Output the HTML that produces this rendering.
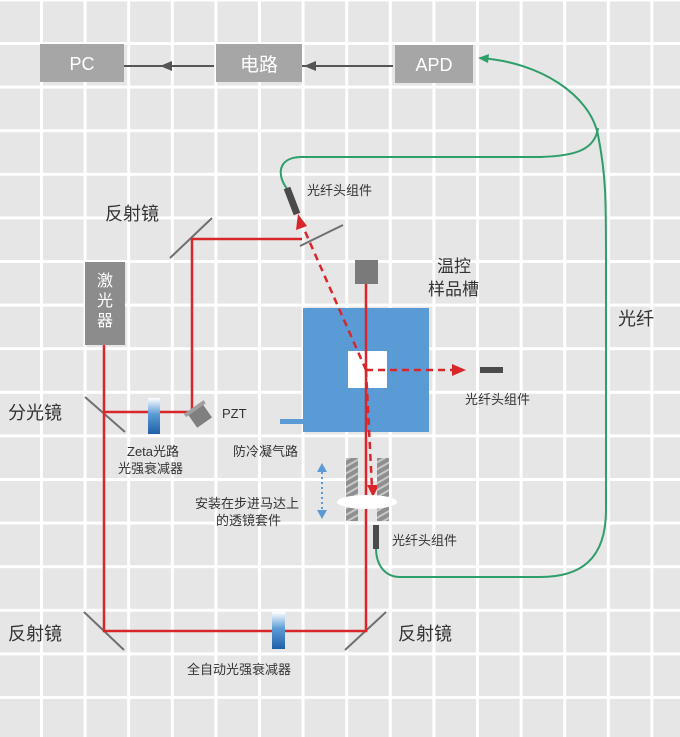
<!DOCTYPE html>
<html><head><meta charset="utf-8"><style>
html,body{margin:0;padding:0;background:#e6e6e6;}
svg{display:block;}
text{font-family:"Liberation Sans","Noto Sans CJK SC",sans-serif;}
</style></head><body>
<svg width="680" height="737" viewBox="0 0 680 737" xmlns="http://www.w3.org/2000/svg">
<defs>
<pattern id="g" x="-3.6" y="-1.6" width="43.6" height="43.6" patternUnits="userSpaceOnUse">
<rect width="43.6" height="43.6" fill="#e6e6e6"/>
<rect x="0" y="0" width="3" height="43.6" fill="#fff"/>
<rect x="0" y="0" width="43.6" height="3" fill="#fff"/>
</pattern>
<linearGradient id="bl" x1="0" y1="0" x2="0" y2="1">
<stop offset="0" stop-color="#ffffff"/><stop offset="0.45" stop-color="#5b9bd5"/><stop offset="1" stop-color="#1f5fa8"/>
</linearGradient>
<pattern id="h" width="6" height="6" patternUnits="userSpaceOnUse" patternTransform="rotate(-30)">
<rect width="6" height="6" fill="#8f8f8f"/><rect width="6" height="2" fill="#c8c8c8"/>
</pattern>
</defs>
<rect width="680" height="737" fill="url(#g)"/>

<!-- top boxes -->
<rect x="40" y="44" width="84" height="38" fill="#a6a6a6"/>
<text x="82" y="70" font-size="18" fill="#fff" text-anchor="middle">PC</text>
<rect x="216" y="44" width="86" height="38" fill="#a6a6a6"/>
<text x="259" y="71" font-size="19" fill="#fff" text-anchor="middle">电路</text>
<rect x="395" y="45" width="78" height="38" fill="#a6a6a6"/>
<text x="434" y="71" font-size="18" fill="#fff" text-anchor="middle">APD</text>
<line x1="124" y1="66" x2="214" y2="66" stroke="#555" stroke-width="2"/>
<polygon points="160,66 172,61 172,71" fill="#555"/>
<line x1="302" y1="66" x2="393" y2="66" stroke="#555" stroke-width="2"/>
<polygon points="304,66 316,61 316,71" fill="#555"/>

<!-- green fiber -->
<g fill="none" stroke="#2e9e6a" stroke-width="2">
<path d="M480,58 C540,62 590,95 598,135 C606,175 606,200 606,260 L606,510 C606,560 580,577 540,577 L400,577 C385,577 376,565 376,548"/>
<path d="M598,128 C595,150 575,156 540,157 L300,157 C278,158 276,175 288,190"/>
</g>
<polygon points="478,58 489,54 488,63" fill="#2e9e6a"/>

<!-- mirrors -->
<g stroke="#6f6f6f" stroke-width="2">
<line x1="170" y1="258" x2="212" y2="218"/>
<line x1="300" y1="246" x2="343" y2="225"/>
<line x1="85" y1="397" x2="125" y2="432"/>
<line x1="84" y1="612" x2="124" y2="650"/>
<line x1="345" y1="650" x2="386" y2="612"/>
</g>

<!-- laser -->
<rect x="85" y="262" width="40" height="83" fill="#8c8c8c"/>
<text font-size="16" fill="#fff" text-anchor="middle"><tspan x="105" y="286">激</tspan><tspan x="105" y="306">光</tspan><tspan x="105" y="326">器</tspan></text>

<!-- blue sample -->
<rect x="303" y="308" width="126" height="124" fill="#5b9bd5"/>
<rect x="348" y="351" width="39" height="37" fill="#fff"/>
<rect x="280" y="419" width="23" height="5" fill="#5b9bd5"/>
<rect x="355" y="260" width="23" height="24" fill="#7a7a7a"/>

<!-- red beams -->
<g stroke="#d9262b" stroke-width="2.5" fill="none">
<polyline points="104,345 104,631 366,631 366,284"/>
<polyline points="104,412 192,412 192,239 302,239"/>
</g>
<g stroke="#d9262b" stroke-width="2.5" fill="none" stroke-dasharray="7,5">
<line x1="366" y1="370" x2="300" y2="220"/>
<line x1="366" y1="370" x2="455" y2="370"/>
<line x1="366" y1="370" x2="372" y2="488"/>
</g>
<polygon points="298,214 296,230 307,226" fill="#d9262b"/>
<polygon points="466,370 452,364 452,376" fill="#d9262b"/>
<polygon points="373,497 367,485 379,485" fill="#d9262b"/>

<!-- fiber heads -->
<line x1="287" y1="188" x2="297" y2="214" stroke="#4a4a4a" stroke-width="7"/>
<rect x="480" y="367" width="23" height="6" fill="#4a4a4a"/>
<rect x="373" y="525" width="6" height="24" fill="#4a4a4a"/>

<!-- lens kit -->
<rect x="346" y="458" width="12" height="63" fill="url(#h)"/>
<rect x="377" y="458" width="12" height="63" fill="url(#h)"/>
<ellipse cx="367" cy="502" rx="30" ry="7" fill="#fff"/>
<line x1="322" y1="472" x2="322" y2="510" stroke="#5b9bd5" stroke-width="2" stroke-dasharray="2,3"/>
<polygon points="322,463 317,472 327,472" fill="#5b9bd5"/>
<polygon points="322,519 317,510 327,510" fill="#5b9bd5"/>

<!-- attenuators / PZT -->
<rect x="148" y="398" width="12" height="36" fill="url(#bl)"/>
<rect x="272" y="612" width="13" height="37" fill="url(#bl)"/>
<g transform="translate(200,416) rotate(-35)"><rect x="-9" y="-8" width="18" height="16" fill="#7f7f7f"/><rect x="-12" y="-11" width="24" height="4" fill="#a0a0a0"/></g>

<!-- labels -->
<g fill="#333">
<text x="105" y="220" font-size="18">反射镜</text>
<text x="307" y="195" font-size="13">光纤头组件</text>
<text x="437" y="272" font-size="17">温控</text>
<text x="428" y="295" font-size="17">样品槽</text>
<text x="618" y="325" font-size="18">光纤</text>
<text x="465" y="404" font-size="13">光纤头组件</text>
<text x="8" y="419" font-size="18">分光镜</text>
<text x="222" y="418" font-size="13">PZT</text>
<text x="127" y="456" font-size="13">Zeta光路</text>
<text x="118" y="473" font-size="13">光强衰减器</text>
<text x="233" y="456" font-size="13">防冷凝气路</text>
<text x="195" y="508" font-size="13">安装在步进马达上</text>
<text x="216" y="525" font-size="13">的透镜套件</text>
<text x="392" y="545" font-size="13">光纤头组件</text>
<text x="8" y="640" font-size="18">反射镜</text>
<text x="398" y="640" font-size="18">反射镜</text>
<text x="187" y="674" font-size="13">全自动光强衰减器</text>
</g>
</svg>
</body></html>
